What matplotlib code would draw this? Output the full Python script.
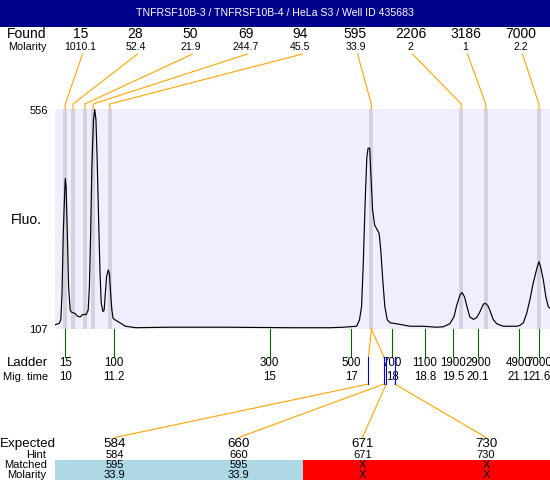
import numpy as np
import matplotlib
matplotlib.use("Agg")
import matplotlib.pyplot as plt
from matplotlib.patches import Rectangle

plt.rcParams['font.family'] = ['Liberation Sans', 'DejaVu Sans']

# electropherogram trace (migration time, fluorescence)
sig_t = [9.75, 9.85, 9.89, 9.92, 9.95, 9.99, 10.0, 10.02, 10.05, 10.08, 10.12, 10.15, 10.24, 10.29,
         10.36, 10.43, 10.51, 10.56, 10.59, 10.62, 10.65, 10.69, 10.72, 10.75, 10.78, 10.82, 10.85,
         10.88, 10.92, 10.95, 10.98, 11.01, 11.05, 11.08, 11.11, 11.14, 11.17, 11.22, 11.34, 11.47,
         11.73, 12.5, 14.0, 15.5, 16.48, 16.80, 17.13, 17.2, 17.25, 17.29, 17.34, 17.38, 17.41, 17.45,
         17.47, 17.52, 17.57, 17.68, 17.72, 17.77, 17.82, 17.88, 17.95, 18.11, 18.44, 18.76, 19.09,
         19.25, 19.41, 19.51, 19.58, 19.66, 19.71, 19.77, 19.84, 19.9, 19.99, 20.07, 20.15, 20.23,
         20.28, 20.35, 20.41, 20.47, 20.56, 20.72, 21.05, 21.13, 21.21, 21.29, 21.37, 21.45, 21.54,
         21.59, 21.63, 21.7, 21.76, 21.82, 21.86]
sig_v = [115, 118, 125, 179, 302, 397, 414, 397, 302, 193, 145, 141, 138, 133, 131, 136, 136, 145,
         193, 302, 438, 534, 555, 534, 452, 315, 220, 159, 142, 145, 179, 213, 227, 220, 179, 145,
         128, 125, 119, 112, 109, 110, 110, 109, 109, 110, 112, 125, 152, 234, 370, 458, 476, 476,
         438, 350, 319, 302, 268, 206, 152, 125, 119, 117, 112, 112, 110, 111, 117, 131, 155, 176,
         181, 172, 149, 131, 126, 130, 142, 157, 159, 153, 140, 126, 117, 112, 112, 114, 119, 138,
         166, 200, 230, 244, 234, 206, 172, 152, 149]

found_sizes = ['15', '28', '50', '69', '94', '595', '2206', '3186', '7000']
found_molarity = ['1010.1', '52.4', '21.9', '244.7', '45.5', '33.9', '2', '1', '2.2']
found_times = [10.0, 10.19, 10.48, 10.68, 11.09, 17.49, 19.69, 20.29, 21.59]

ladder_sizes = [15, 100, 300, 500, 700, 1100, 1900, 2900, 4900, 7000]
ladder_times = [10, 11.2, 15, 17, 18, 18.8, 19.5, 20.1, 21.1, 21.6]

expected = [584, 660, 671, 730]
hint = [584, 660, 671, 730]
matched = ['595', '595', 'X', 'X']
matched_mol = ['33.9', '33.9', 'X', 'X']
matched_peak = [5, 5, None, None]

y_min, y_max = 107, 556
t_min, t_max = 9.748, 21.862

W, H = 550, 480
fig = plt.figure(figsize=(W / 100, H / 100), dpi=100)
fig.patch.set_facecolor('white')

ax = fig.add_axes([55 / W, (H - 328.7) / H, 495 / W, 219.7 / H])
ax.set_facecolor('#EEEEFF')
ax.set_xlim(t_min, t_max)
ax.set_ylim(y_min, y_max)
ax.set_xticks([])
ax.set_yticks([])
for s in ax.spines.values():
    s.set_visible(False)

for t in found_times:
    ax.axvspan(t - 0.05, t + 0.05, color='#D3D3E0', lw=0, zorder=1)
ax.plot(sig_t, sig_v, color='black', lw=0.85, zorder=3)

# overlay in pixel coordinates
ov = fig.add_axes([0, 0, 1, 1], zorder=5)
ov.set_xlim(0, W)
ov.set_ylim(H, 0)
ov.axis('off')
ov.patch.set_alpha(0)


def t2px(t):
    disp = ax.transData.transform((t, y_min))
    return ov.transData.inverted().transform(disp)[0]


orange = '#FFA500'
lw = 0.8

# title bar
ov.add_patch(Rectangle((0, 0), W, 26.5, color='#00008B', lw=0))
ov.text(W / 2, 13.5, 'TNFRSF10B-3 / TNFRSF10B-4 / HeLa S3 / Well ID 435683',
        color='white', fontsize=7.6, ha='center', va='center')

# found row
ov.text(27, 34, 'Found', fontsize=10, ha='center', va='center')
ov.text(27, 46.5, 'Molarity', fontsize=7.8, ha='center', va='center')
for i, (sz, mol, t) in enumerate(zip(found_sizes, found_molarity, found_times)):
    cx = 55 + 55 * (i + 0.5) - 2
    ov.text(cx, 34, sz, fontsize=10, ha='center', va='center')
    ov.text(cx, 46.5, mol, fontsize=7.6, ha='center', va='center')
    bx = t2px(t)
    ov.plot([cx + 2, bx, bx], [54, 104, 109], color=orange, lw=lw)

# y labels
ov.text(48, 110.5, str(y_max), fontsize=8, ha='right', va='center')
ov.text(48, 330, str(y_min), fontsize=8, ha='right', va='center')
ov.text(26.5, 220, 'Fluo.', fontsize=10, ha='center', va='center')

# ladder
ov.text(27, 363.5, 'Ladder', fontsize=9.5, ha='center', va='center')
ov.text(26, 377, 'Mig. time', fontsize=8, ha='center', va='center')
for sz, t in zip(ladder_sizes, ladder_times):
    x = t2px(t)
    ov.plot([x, x], [329, 357], color='#006400', lw=lw)
    ov.text(x, 363.5, str(sz), fontsize=8.3, ha='center', va='center')
    ov.text(x, 377, f'{t:g}', fontsize=8.3, ha='center', va='center')

# expected sizes
exp_t = np.interp(expected, ladder_sizes, ladder_times)
col_w = 495 / len(expected)
ov.text(27.5, 443.5, 'Expected', fontsize=9.6, ha='center', va='center')
ov.text(36, 455, 'Hint', fontsize=8, ha='center', va='center')
ov.text(26, 464.5, 'Matched', fontsize=8, ha='center', va='center')
ov.text(27, 474.5, 'Molarity', fontsize=8, ha='center', va='center')
for j, (e, h, m, mm, k, t) in enumerate(zip(expected, hint, matched, matched_mol, matched_peak, exp_t)):
    cx = 55 + col_w * (j + 0.5) - 2
    ex = t2px(t)
    if k is not None:
        bx = t2px(found_times[k])
        ov.plot([bx, ex], [329, 357], color=orange, lw=lw)
    ov.plot([ex, ex], [357, 384], color='#0000DD', lw=lw, zorder=6)
    ov.plot([ex, cx], [384, 437.5], color=orange, lw=lw)
    ov.text(cx, 444, str(e), fontsize=9.6, ha='center', va='center')
    ov.text(cx, 455, str(h), fontsize=8, ha='center', va='center')
    ov.add_patch(Rectangle((55 + col_w * j, 460), col_w, 20,
                           color='#ADD8E6' if k is not None else '#FF0000', lw=0))
    ov.text(cx, 464.5, m, fontsize=8, ha='center', va='center')
    ov.text(cx, 474.5, mm, fontsize=8, ha='center', va='center')

fig.savefig('out.png', dpi=100)
